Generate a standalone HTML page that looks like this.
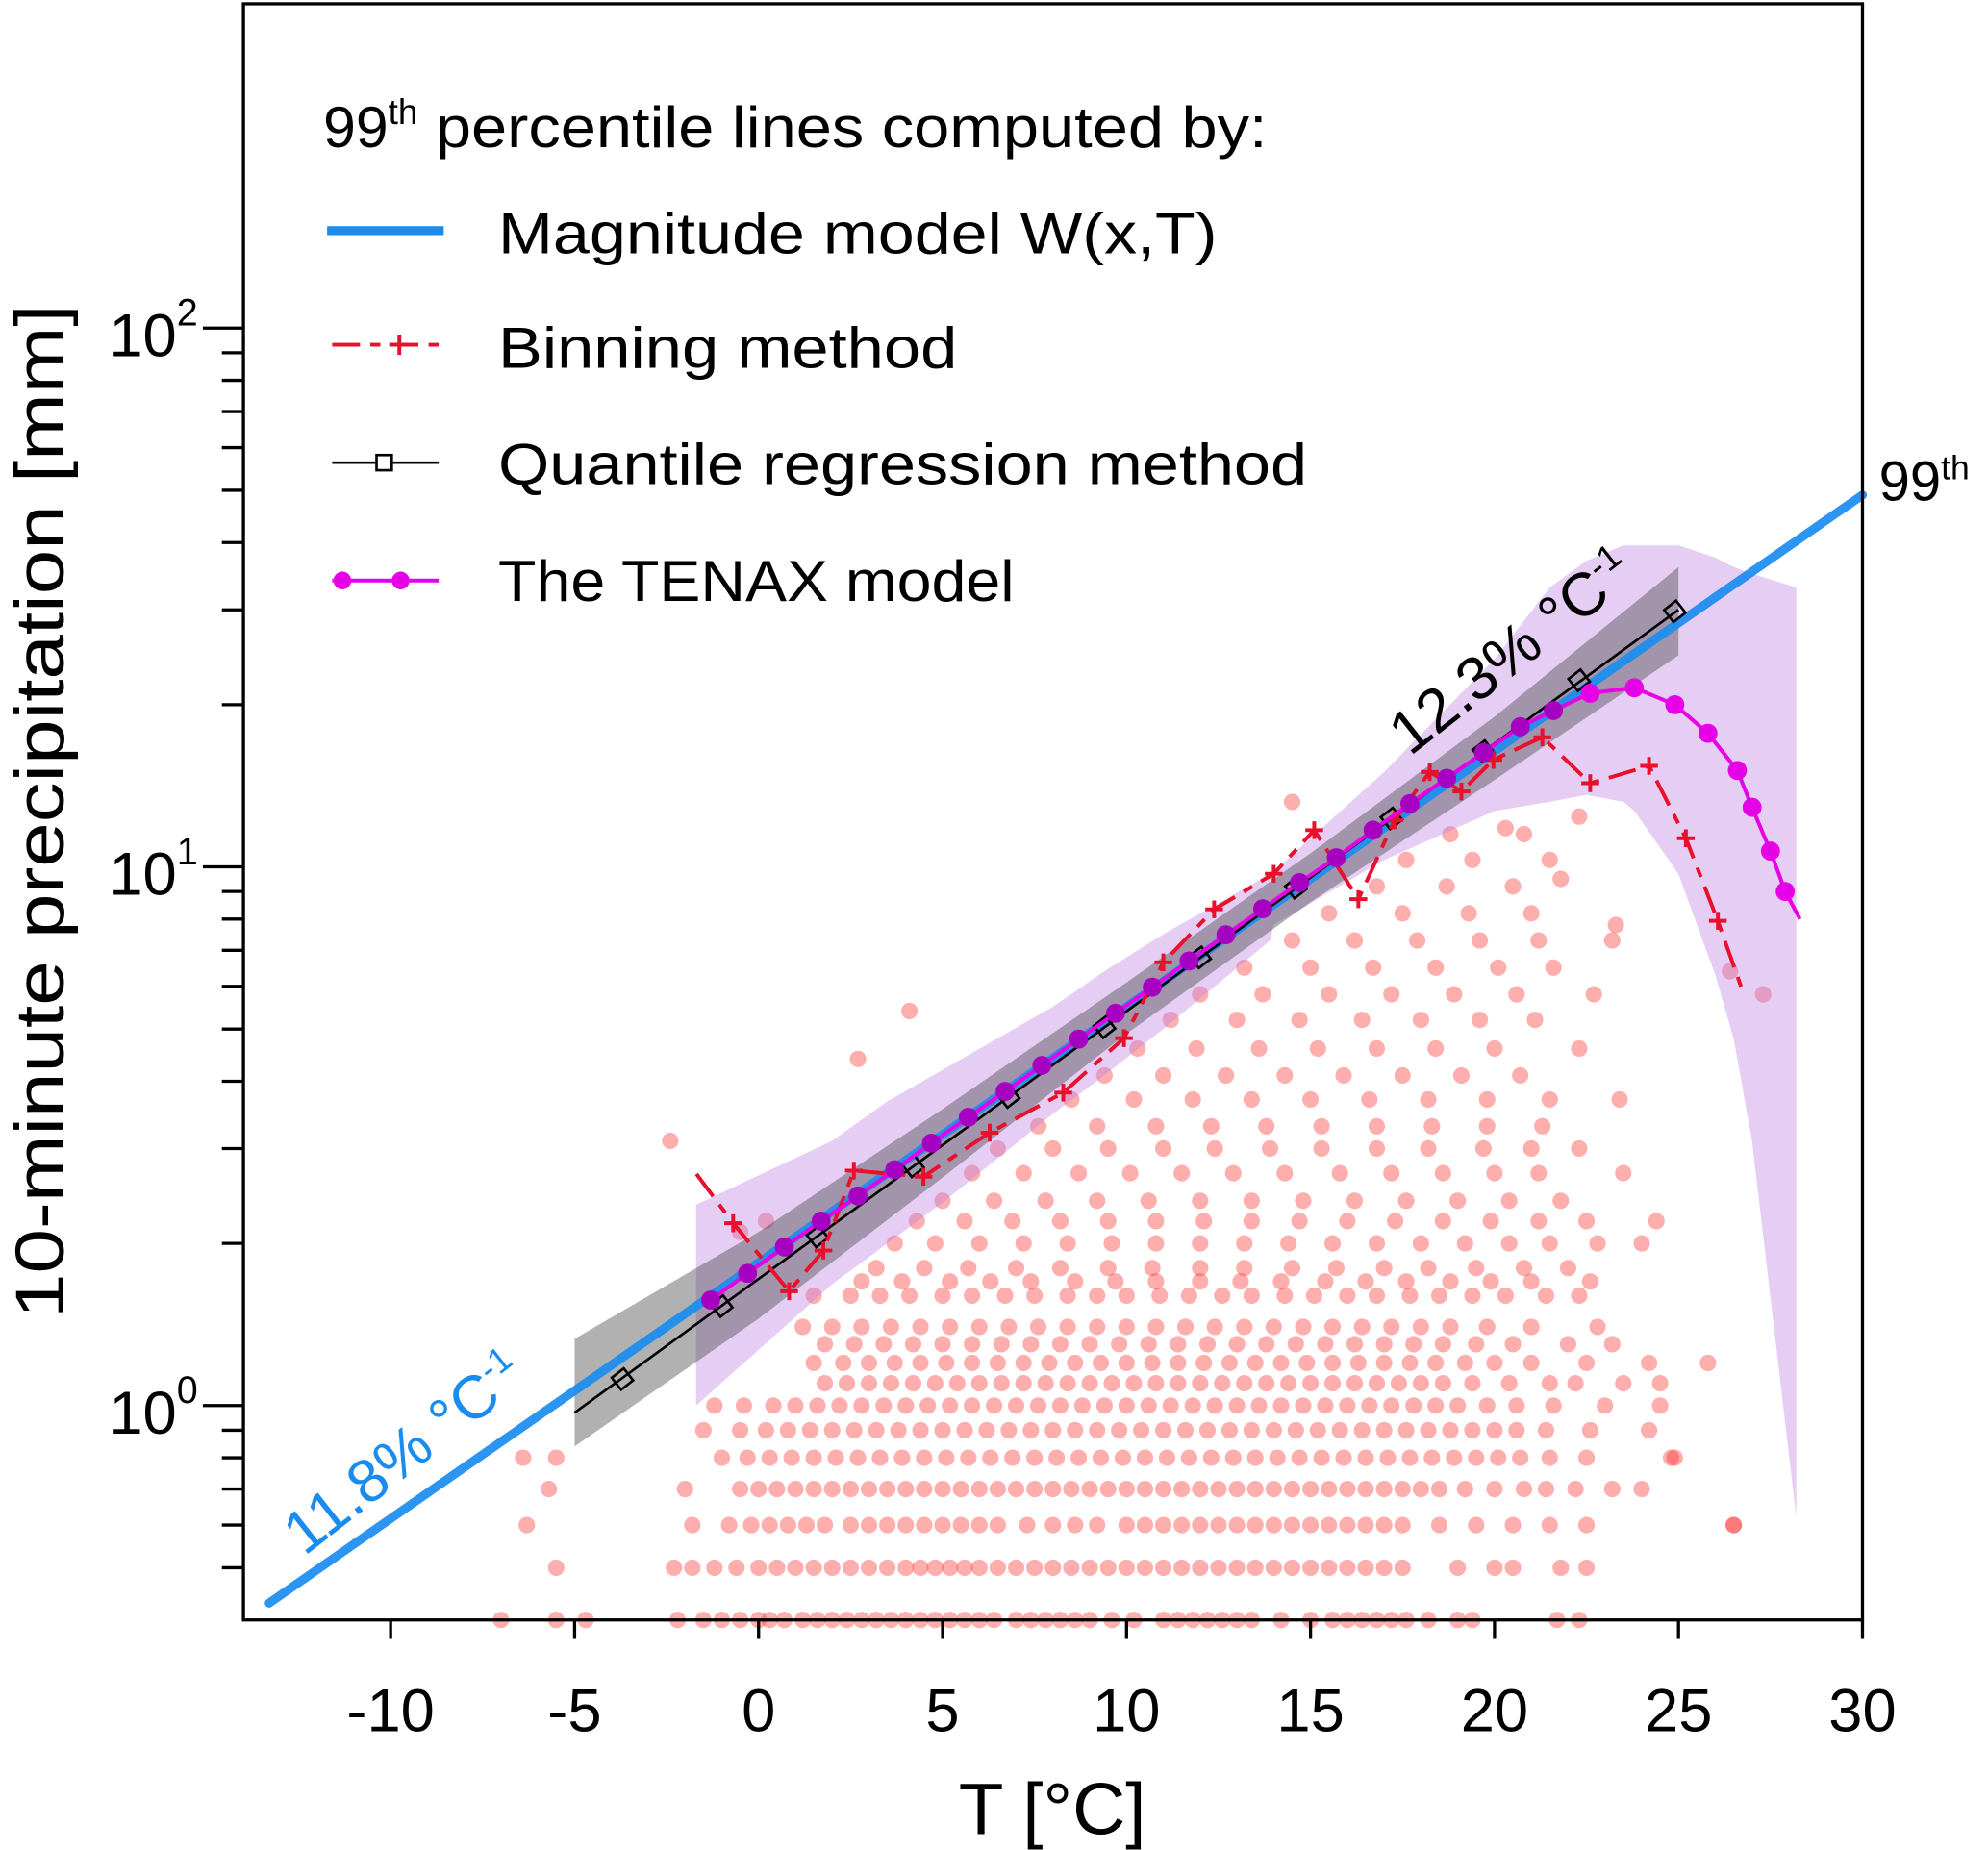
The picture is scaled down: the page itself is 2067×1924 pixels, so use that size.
<!DOCTYPE html>
<html><head><meta charset="utf-8"><style>
html,body{margin:0;padding:0;background:#fff;}
svg{display:block;font-family:"Liberation Sans",sans-serif;}
</style></head><body>
<svg id="chart" width="2067" height="1924" viewBox="0 0 1568 1459.5" preserveAspectRatio="none" xmlns="http://www.w3.org/2000/svg">
<g id="scatter"></g>
<g id="bands"></g>
<g id="lines"></g>
<g id="axes"></g>
<g>
  <text x="255" y="116" font-size="46">99<tspan font-size="28" dy="-18">th</tspan><tspan dy="18" textLength="670" lengthAdjust="spacingAndGlyphs"> percentile lines computed by:</tspan></text>
  <line x1="258" y1="182" x2="350" y2="182" stroke="#1a8cf0" stroke-width="7"/>
  <text x="393" y="200" font-size="46" textLength="567" lengthAdjust="spacingAndGlyphs">Magnitude model W(x,T)</text>
  <line x1="262" y1="272" x2="346" y2="272" stroke="#e8102a" stroke-width="3" stroke-dasharray="22,8,8,8"/>
  <path d="M307 272h16M315 264v16" stroke="#e8102a" stroke-width="3"/>
  <text x="393" y="290" font-size="46" textLength="362" lengthAdjust="spacingAndGlyphs">Binning method</text>
  <line x1="262" y1="365" x2="346" y2="365" stroke="#000" stroke-width="2"/>
  <rect x="297" y="359" width="12" height="12" fill="#fff" stroke="#000" stroke-width="2"/>
  <text x="393" y="382" font-size="46" textLength="638" lengthAdjust="spacingAndGlyphs">Quantile regression method</text>
  <line x1="262" y1="458" x2="346" y2="458" stroke="#e600e6" stroke-width="3"/>
  <circle cx="270" cy="458" r="7" fill="#e600e6"/>
  <circle cx="316" cy="458" r="7" fill="#e600e6"/>
  <text x="393" y="474" font-size="46" textLength="407" lengthAdjust="spacingAndGlyphs">The TENAX model</text>
</g>
<text transform="translate(1112,597) rotate(-38)" font-size="48">12.3% °C<tspan font-size="28" dy="-18">-1</tspan></text>
<text transform="translate(240,1228) rotate(-38)" font-size="48" fill="#1a8cf0">11.8% °C<tspan font-size="28" dy="-18">-1</tspan></text>
<text x="1482" y="395" font-size="44">99<tspan font-size="27" dy="-17">th</tspan></text>
<text x="830" y="1447" font-size="58" text-anchor="middle">T [°C]</text>
<text transform="translate(50,640) rotate(-90)" font-size="54" text-anchor="middle" textLength="800" lengthAdjust="spacingAndGlyphs">10-minute precipitation [mm]</text>
</svg>
<script>
// ---- data ----
const xTicks = [-10,-5,0,5,10,15,20,25,30];
const yMajor = [0, 1, 2];
const yMinor = [0.5,0.6,0.7,0.8,0.9,2,3,4,5,6,7,8,9,20,30,40,50,60,70,80,90];
const blueT = [-13.3, 30];
const blueP = [0.43, 49];
const qrT = [-3.7,-1,1.6,4.2,6.8,9.4,12,14.6,17.2,19.7,22.3,24.9];
const qrP = [1.12,1.53,2.06,2.78,3.74,5.04,6.79,9.15,12.3,16.4,22.2,29.8];
const qrLineT = [-5, 25];
const qrLineP = [0.97, 30];
const grayT = [-5,0,5,10,15,20,25];
const grayHi = [1.33,2.1,3.55,6.1,10.6,19,36];
const grayLo = [0.84,1.45,2.65,4.9,8.6,14.5,24.7];
const purT = [-1.7,2,3.5,5,8,9.4,11,13.9,14,17,20,21.5,22.5,23.5,23.8,25,26,26.5,27,28.2];
const purHi = [2.36,3.1,3.67,4.2,5.5,6.4,7.5,9.7,9.8,15,24.3,33,37,39.5,39.5,39.5,37.5,36,35,33];
const purLo = [1.0,1.68,2.0,2.38,3.48,4.1,5.0,7.3,7.8,10.3,12.7,13.2,13.6,13.2,12.7,9.7,6.3,4.8,3.1,0.62];
const tenT = [-1.3,-0.3,0.7,1.7,2.7,3.7,4.7,5.7,6.7,7.7,8.7,9.7,10.7,11.7,12.7,13.7,14.7,15.7,16.7,17.7,18.7,19.7,20.7,21.6,22.6,23.8,24.9,25.8,26.6,27.0,27.5,27.9,28.3];
const tenP = [1.57,1.76,1.97,2.2,2.45,2.74,3.07,3.43,3.83,4.28,4.79,5.35,5.98,6.69,7.48,8.36,9.35,10.4,11.7,13.1,14.6,16.3,18.2,19.5,21.0,21.5,20.0,17.7,15.1,12.9,10.7,9.0,8.0];
const binT = [-1.69,-0.69,0.83,1.76,2.59,4.48,6.28,8.28,9.93,11.0,12.38,14.0,15.1,16.3,17.28,18.24,19.1,19.97,21.3,22.6,24.2,25.2,26.07,26.7];
const binP = [2.69,2.18,1.63,1.94,2.73,2.66,3.21,3.81,4.81,6.65,8.34,9.71,11.7,8.71,12.2,15.0,13.8,15.8,17.4,14.3,15.4,11.3,7.94,6.0];
const binMarkerT = binT.slice(1, binT.length - 1);
const binMarkerP = binP.slice(1, binP.length - 1);
const scatterLevels = [0.4,0.5,0.6,0.7,0.8,0.9,1.0,1.1,1.2,1.3,1.4,1.6,1.7,1.8,2.0,2.2,2.4,2.7,3.0,3.3,3.7,4.1,4.6,5.2,5.8,6.5,7.3,8.2,9.2,10.3,11.5];
const scatterTs = [
 [-7,-5.5,-4.7,-2.2,-1.5,-1,-0.5,0,0.3,0.7,1.2,1.6,2,2.4,2.8,3.2,3.6,4,4.4,4.8,5.2,5.6,6,6.4,7,7.4,7.8,8.2,8.6,9,9.6,10.2,11,11.4,11.8,12.2,12.6,13,13.4,14.2,15,15.6,16,16.4,16.8,17.2,17.6,18.2,19,19.4,21.7,22.3],
 [-5.5,-2.3,-1.8,-1.2,-0.6,0,0.5,1,1.5,2,2.5,3,3.5,4,4.4,4.8,5.2,5.6,6,6.5,7,7.5,8,8.5,9,9.5,10,10.5,11,11.5,12,12.5,13,13.5,14,14.5,15,15.5,16,16.5,17,17.5,19,20,20.5,21.8,22.5],
 [-6.3,-1.8,-0.8,-0.2,0.3,0.8,1.3,1.8,2.5,3,3.5,4,4.5,5,5.5,6,6.5,7.3,8,8.6,9.2,10,10.5,11,11.5,12,12.5,13,13.5,14,14.5,15,15.5,16,16.5,17,17.5,18.5,19.5,20.5,21.5,22.5,26.5],
 [-5.7,-2,-0.5,0,0.5,1,1.5,2,2.5,3,3.5,4,4.5,5,5.5,6,6.5,7,7.5,8,8.5,9,9.5,10,10.5,11,11.5,12,12.5,13,13.5,14,14.5,15,15.5,16,16.5,17,17.5,18,18.5,19.2,20,20.8,21.4,22.2,23.2,24],
 [-6.4,-5.5,-1,-0.3,0.3,0.9,1.5,2.1,2.7,3.3,3.9,4.5,5.1,5.7,6.3,6.9,7.5,8.1,8.7,9.3,9.9,10.5,11.1,11.7,12.3,12.9,13.5,14.1,14.7,15.3,15.9,16.5,17.1,17.7,18.3,18.9,19.5,20.1,20.7,21.5,22.5,24.8],
 [-1.5,-0.5,0.2,0.8,1.4,2,2.6,3.2,3.8,4.4,5,5.6,6.2,6.8,7.4,8,8.6,9.2,9.8,10.4,11,11.6,12.2,12.8,13.4,14,14.6,15.2,15.8,16.4,17,17.6,18.2,18.8,19.4,20,20.6,21.4,22.6,24.2],
 [-1.2,-0.4,0.4,1,1.6,2.2,2.8,3.4,4,4.6,5.2,5.8,6.4,7,7.6,8.2,8.8,9.4,10,10.6,11.2,11.8,12.4,13,13.6,14.2,14.8,15.4,16,16.6,17.2,17.8,18.4,19,19.8,20.6,21.6,23,24.5],
 [1.8,2.4,3,3.6,4.2,4.8,5.4,6,6.6,7.2,7.8,8.4,9,9.6,10.2,10.8,11.4,12,12.6,13.2,13.8,14.4,15,15.6,16.2,16.8,17.4,18,18.6,19.4,20.4,21.5,22.2,23.5,24.5],
 [1.5,2.3,3,3.7,4.4,5.1,5.8,6.5,7.2,7.9,8.6,9.3,10,10.7,11.4,12.1,12.8,13.5,14.2,14.9,15.6,16.3,17,17.7,18.4,19.2,20,21,22.5,24.2],
 [1.8,2.6,3.4,4.2,5,5.8,6.6,7.4,8.2,9,9.8,10.6,11.4,12.2,13,13.8,14.6,15.4,16.2,17,17.8,18.6,19.5,20.5,22,23.2],
 [1.2,2,2.8,3.6,4.4,5.2,6,6.8,7.6,8.4,9.2,10,10.8,11.6,12.4,13.2,14,14.8,15.6,16.4,17.2,18,18.8,19.8,21,22.8],
 [1.5,2.5,3.3,4.1,5,5.8,6.7,7.5,8.4,9.2,10,10.9,11.7,12.6,13.4,14.3,15.1,16,16.8,17.7,18.5,19.4,20.3,21.4,22.3],
 [2.8,3.9,5.2,6.3,7.4,8.6,9.7,10.8,12,13.1,14.2,15.4,16.5,17.6,18.8,19.9,21,22.6],
 [3.2,4.5,5.7,7,8.2,9.5,10.7,12,13.2,14.5,15.7,17,18.2,19.5,20.8,22],
 [3.7,4.8,6,7.2,8.4,9.6,10.8,12,13.2,14.4,15.6,16.8,18,19.2,20.4,21.5,22.8,24],
 [4.3,5.6,6.9,8.2,9.5,10.8,12.1,13.4,14.7,16,17.3,18.6,19.9,21.2,22.5],
 [5,6.4,7.8,9.2,10.6,12,13.4,14.8,16.2,17.6,19,20.4,21.8],
 [5.8,7.2,8.7,10.1,11.5,12.9,14.3,15.8,17.2,18.6,20,21.2,23.5],
 [6.5,8,9.5,11,12.4,13.9,15.3,16.8,18.2,19.7,21,22.3],
 [7.6,9.2,10.8,12.3,13.8,15.3,16.8,18.3,19.8,21.3],
 [8.5,10.2,11.8,13.4,15,16.6,18.2,19.8,21.5,23.4],
 [9.4,11,12.7,14.3,15.9,17.5,19.1,20.7],
 [10.3,11.9,13.6,15.2,16.8,18.4,20,22.3],
 [11.2,13,14.7,16.4,18,19.6,21.1],
 [12,13.7,15.5,17.2,18.9,20.6,22.7],
 [13.2,15,16.7,18.4,20.1,21.6],
 [14.5,16.2,17.9,19.6,21.2,23.2],
 [15.5,17.5,19.3,21],
 [16.8,18.7,20.5],
 [17.6,19.4,21.5],
 [18.8,20.8]
];
const outlierT = [4.1,2.7,-2.4,0.2,-0.5,14.5,26.4,27.3,23.3,22.3,24.4,25.8,26.5,24.9,20.3,21.8];
const outlierP = [5.4,4.4,3.1,2.2,2.1,13.2,6.4,5.8,7.8,12.4,2.2,1.2,0.6,0.8,11.8,9.5];

// ---- scales ----
const X0 = 192, X1 = 1469, Y0 = 3, Y1 = 1278;
const TMIN = -14, TMAX = 30, LMIN = Math.log10(0.4), LMAX = Math.log10(400);
function xs(t){ return X0 + (t - TMIN) / (TMAX - TMIN) * (X1 - X0); }
function ys(p){ return Y1 - (Math.log10(p) - LMIN) / (LMAX - LMIN) * (Y1 - Y0); }
const NS = "http://www.w3.org/2000/svg";
function mk(tag, parent, attrs){
  const e = document.createElementNS(NS, tag);
  for (const k in attrs) e.setAttribute(k, attrs[k]);
  parent.appendChild(e); return e;
}
function pathOf(T, P){ return T.map((t,i)=>(i?'L':'M')+xs(t).toFixed(1)+' '+ys(P[i]).toFixed(1)).join(''); }

// scatter
const gS = document.getElementById('scatter');
scatterLevels.forEach((p, i) => {
  scatterTs[i].forEach(t => {
    const c = mk('circle', gS, {cx: xs(t), cy: ys(p), r: 6.5, fill: 'rgba(255,30,30,0.36)'});
    
    
  });
});
outlierT.forEach((t, i) => {
  const c = mk('circle', gS, {cx: xs(t), cy: ys(outlierP[i]), r: 6.5, fill: 'rgba(255,30,30,0.36)'});
  
  
});

// bands
const gB = document.getElementById('bands');
const pb = mk('path', gB, {d: pathOf(purT, purHi) + pathOf(purT.slice().reverse(), purLo.slice().reverse()).replace('M','L') + 'Z', fill: 'rgba(190,130,225,0.4)'});


const gb = mk('path', gB, {d: pathOf(grayT, grayHi) + pathOf(grayT.slice().reverse(), grayLo.slice().reverse()).replace('M','L') + 'Z', fill: 'rgba(70,70,70,0.42)'});



// lines
const gL = document.getElementById('lines');
const bl = mk('path', gL, {d: pathOf(blueT, blueP), stroke: '#1a8cf0', 'stroke-width': 7, fill: 'none', 'stroke-linecap': 'round', opacity: 0.92});


const ql = mk('path', gL, {d: pathOf(qrLineT, qrLineP), stroke: '#000', 'stroke-width': 2, fill: 'none'});


qrT.forEach((t, i) => {
  const r = mk('rect', gL, {x: -6, y: -6, width: 12, height: 12, fill: 'none', stroke: '#000', 'stroke-width': 2, transform: 'translate(' + xs(t) + ',' + ys(qrP[i]) + ') rotate(-38)'});
  
  
});
const rl = mk('path', gL, {d: pathOf(binT, binP), stroke: '#e8102a', 'stroke-width': 3, fill: 'none', 'stroke-dasharray': '22,8,8,8'});


binMarkerT.forEach((t, i) => {
  const x = xs(t), y = ys(binMarkerP[i]);
  const m = mk('path', gL, {d: 'M' + (x-7) + ' ' + y + 'h14M' + x + ' ' + (y-7) + 'v14', stroke: '#e8102a', 'stroke-width': 3});
  
  
});
const tl = mk('path', gL, {d: pathOf(tenT, tenP), stroke: '#e600e6', 'stroke-width': 3, fill: 'none'});


tenT.forEach((t, i) => {
  if (i === tenT.length - 1) return;
  const c = mk('circle', gL, {cx: xs(t), cy: ys(tenP[i]), r: 7.5, fill: t < 21.8 ? '#a600c0' : '#e600e6'});
  
  
});

// axes
const gA = document.getElementById('axes');
const fr = mk('rect', gA, {x: X0, y: Y0, width: X1 - X0, height: Y1 - Y0, fill: 'none', stroke: '#000', 'stroke-width': 2.5});


xTicks.forEach(t => {
  const l = mk('line', gA, {x1: xs(t), x2: xs(t), y1: Y1, y2: Y1 + 15, stroke: '#000', 'stroke-width': 2.5});
  
  
  const tx = mk('text', gA, {x: xs(t), y: 1366, 'font-size': 48, 'text-anchor': 'middle'});
  tx.textContent = String(t);
  
  
});
yMinor.forEach(p => {
  const l = mk('line', gA, {x1: X0 - 17, x2: X0, y1: ys(p), y2: ys(p), stroke: '#000', 'stroke-width': 2.5});
  
  
});
yMajor.forEach(e => {
  const y = ys(Math.pow(10, e));
  const l = mk('line', gA, {x1: X0 - 32, x2: X0, y1: y, y2: y, stroke: '#000', 'stroke-width': 2.5});
  
  
  const tx = mk('text', gA, {x: 86, y: y + 22, 'font-size': 48});
  tx.textContent = '10';
  const sup = mk('tspan', tx, {'font-size': 30, dy: -24});
  sup.textContent = String(e);
  
  
});
</script>
</body></html>
